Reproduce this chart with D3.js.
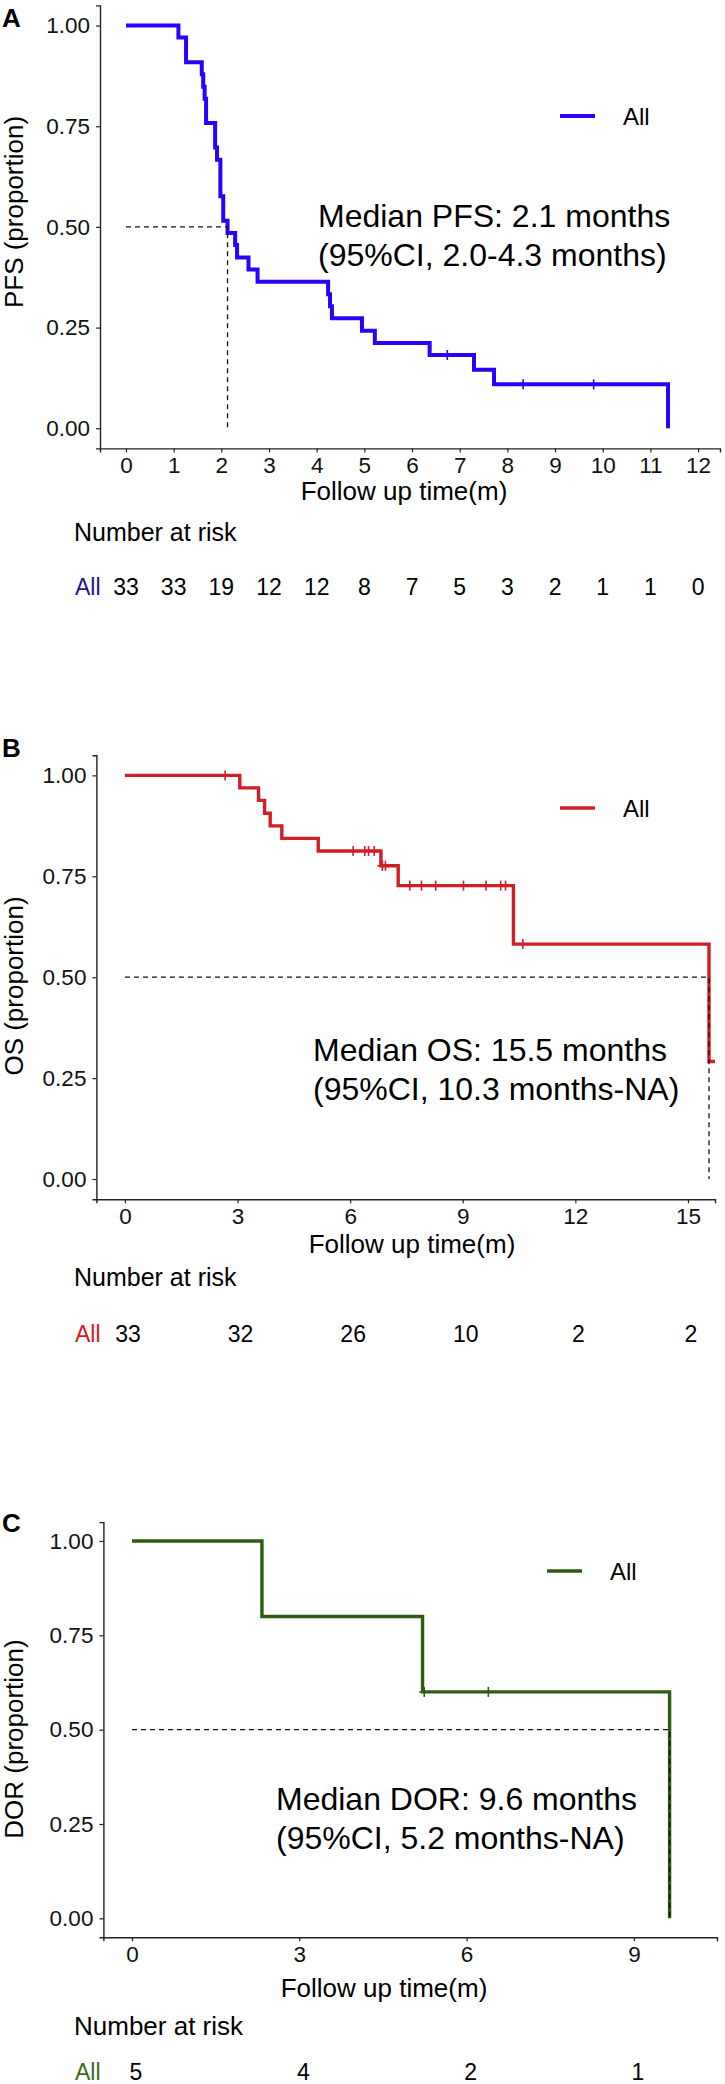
<!DOCTYPE html>
<html><head><meta charset="utf-8">
<script src="https://cdn.jsdelivr.net/npm/d3@7"></script>
<style>body{margin:0;background:#fff} text{font-family:"Liberation Sans",Arial,sans-serif}</style>
</head><body>
<svg id="chart" width="725" height="2084"></svg>
<script>
// ---------- Panel A : PFS ----------
const pfsTime = [0, 1.10, 1.26, 1.59, 1.62, 1.65, 1.68, 1.87, 1.91, 1.98, 2.04, 2.13, 2.29, 2.33, 2.57, 2.76, 4.24, 4.28, 4.32, 4.95, 5.22, 6.37, 7.30, 7.72, 11.37];
const pfsSurv = [1, 0.970, 0.909, 0.879, 0.848, 0.818, 0.758, 0.697, 0.667, 0.576, 0.515, 0.485, 0.455, 0.424, 0.394, 0.364, 0.333, 0.303, 0.273, 0.242, 0.212, 0.182, 0.145, 0.109, 0];
const pfsCensor = [6.74, 8.33, 9.81];
const pfsTicks = [0,1,2,3,4,5,6,7,8,9,10,11,12];
const pfsRisk = [33,33,19,12,12,8,7,5,3,2,1,1,0];
const pfsMedian = 2.13;
const pfsLabel = ["Median PFS: 2.1 months", "(95%CI, 2.0-4.3 months)"];

// ---------- Panel B : OS ----------
const osTime = [0, 3.06, 3.56, 3.72, 3.87, 4.18, 5.15, 6.82, 7.28, 10.35, 15.56, 15.72];
const osSurv = [1, 0.969, 0.938, 0.906, 0.875, 0.844, 0.8125, 0.776, 0.727, 0.582, 0.291, 0.291];
const osCensor = [2.67, 6.08, 6.39, 6.49, 6.64, 6.86, 6.94, 7.59, 7.90, 8.28, 9.02, 9.62, 10.01, 10.14, 10.60];
const osTicks = [0,3,6,9,12,15];
const osRisk = [33,32,26,10,2,2];
const osMedian = 15.56;
const osLabel = ["Median OS: 15.5 months", "(95%CI, 10.3 months-NA)"];

// ---------- Panel C : DOR ----------
const dorTime = [0, 2.33, 5.21, 9.64];
const dorSurv = [1, 0.8, 0.6, 0];
const dorCensor = [5.24, 6.39];
const dorTicks = [0,3,6,9];
const dorRisk = [5,4,2,1];
const dorMedian = 9.64;
const dorLabel = ["Median DOR: 9.6 months", "(95%CI, 5.2 months-NA)"];

const yTicks = [0, 0.25, 0.5, 0.75, 1];

const svg = d3.select("#chart");

function stepValue(times, surv, t){
  let v = surv[0];
  for (let i=0;i<times.length;i++){ if (times[i] <= t) v = surv[i]; }
  return v;
}

function panel(o){
  const g = svg.append("g");
  const x = d3.scaleLinear().domain(o.xDom).range(o.xRange);
  const y = d3.scaleLinear().domain([-0.05, 1.05]).range(o.yRange);

  // panel letter
  g.append("text").attr("x", 2).attr("y", o.letterY).text(o.letter)
    .attr("font-size", 26).attr("font-weight", "bold").attr("fill", "#000");

  // axes
  const ax = g.append("g").attr("transform", `translate(0,${o.yRange[0]})`)
    .call(d3.axisBottom(x).tickValues(o.ticks).tickFormat(d3.format("d")).tickSizeOuter(0).tickSize(4).tickPadding(5));
  const ay = g.append("g").attr("transform", `translate(${o.xRange[0]},0)`)
    .call(d3.axisLeft(y).tickValues(yTicks).tickFormat(d3.format(".2f")).tickSizeOuter(0).tickSize(4).tickPadding(6));
  [ax, ay].forEach(a => {
    a.select(".domain").attr("stroke", "#222").attr("stroke-width", 1.4);
    a.selectAll(".tick line").attr("stroke", "#222").attr("stroke-width", 1.2);
    a.selectAll(".tick text").attr("font-size", 22.5).attr("fill", "#111")
      .attr("font-family", "'Liberation Sans',Arial,sans-serif");
  });

  // axis titles
  g.append("text").attr("transform", `translate(23,${o.yTitleY}) rotate(-90)`)
    .attr("text-anchor", "middle").attr("font-size", 26).attr("fill", "#000").text(o.yTitle);
  g.append("text").attr("x", o.xTitleX).attr("y", o.xTitleY).attr("text-anchor", "middle")
    .attr("font-size", 26).attr("fill", "#000").text("Follow up time(m)");

  // survival step curve
  const pts = o.time.map((t,i) => [t, o.surv[i]]);
  const line = d3.line().x(d => x(d[0])).y(d => y(d[1])).curve(d3.curveStepAfter);
  g.append("path").attr("d", line(pts)).attr("fill", "none")
    .attr("stroke", o.color).attr("stroke-width", o.lw).attr("stroke-linejoin", "miter");

  // censor marks
  o.censor.forEach(t => {
    const cx = x(t), cy = y(stepValue(o.time, o.surv, t));
    g.append("line").attr("x1", cx).attr("x2", cx).attr("y1", cy - 5).attr("y2", cy + 5)
      .attr("stroke", o.color).attr("stroke-width", 1.6);
    g.append("line").attr("x1", cx - 5).attr("x2", cx + 5).attr("y1", cy).attr("y2", cy)
      .attr("stroke", o.color).attr("stroke-width", 1.6);
  });

  // median lines
  g.append("path").attr("d", d3.line().x(d => x(d[0])).y(d => y(d[1]))([[0,0.5],[o.median,0.5],[o.median,0]]))
    .attr("fill", "none").attr("stroke", "#111").attr("stroke-width", 1.3).attr("stroke-dasharray", "5,4");

  // legend
  g.append("line").attr("x1", o.legX).attr("x2", o.legX + 35).attr("y1", o.legY).attr("y2", o.legY)
    .attr("stroke", o.color).attr("stroke-width", o.lw);
  g.append("text").attr("x", o.legX + 63).attr("y", o.legY).attr("dy", "0.36em")
    .attr("font-size", 24).attr("fill", "#000").text("All");

  // median annotation
  o.label.forEach((s, i) => {
    g.append("text").attr("x", o.labX).attr("y", o.labY + i * 39).attr("font-size", 32)
      .attr("fill", "#000").text(s);
  });

  // number at risk
  g.append("text").attr("x", 74).attr("y", o.narY).attr("font-size", o.narSize).attr("fill", "#000").text("Number at risk");
  g.append("text").attr("x", 75).attr("y", o.riskY).attr("font-size", 23).attr("fill", o.riskColor).text("All");
  o.ticks.forEach((t, i) => {
    g.append("text").attr("x", x(t) + o.riskShift).attr("y", o.riskY).attr("text-anchor", "middle")
      .attr("font-size", 23).attr("fill", "#000").text(o.risk[i]);
  });
}

panel({letter:"A", letterY:27, xDom:[-0.545, 12.46], xRange:[100, 720], yRange:[448.4, 5.4],
  ticks:pfsTicks, time:pfsTime, surv:pfsSurv, censor:pfsCensor, median:pfsMedian, label:pfsLabel,
  color:"#2a00ff", lw:4, riskColor:"#1e168f", risk:pfsRisk, riskShift:0,
  yTitle:"PFS (proportion)", yTitleY:212, xTitleX:404, xTitleY:500,
  legX:560, legY:116, labX:318, labY:227, narY:541, narSize:25, riskY:595});

panel({letter:"B", letterY:757, xDom:[-0.76, 15.72], xRange:[96.4, 715], yRange:[1199.2, 755.2],
  ticks:osTicks, time:osTime, surv:osSurv, censor:osCensor, median:osMedian, label:osLabel,
  color:"#d01f26", lw:3.4, riskColor:"#d7191c", risk:osRisk, riskShift:3,
  yTitle:"OS (proportion)", yTitleY:986, xTitleX:412, xTitleY:1253,
  legX:560, legY:808, labX:313, labY:1061, narY:1286, narSize:25, riskY:1342});

panel({letter:"C", letterY:1532, xDom:[-0.513, 10.49], xRange:[103.4, 717], yRange:[1937.2, 1522.1],
  ticks:dorTicks, time:dorTime, surv:dorSurv, censor:dorCensor, median:dorMedian, label:dorLabel,
  color:"#2f5b12", lw:3.4, riskColor:"#3a6b1a", risk:dorRisk, riskShift:4,
  yTitle:"DOR (proportion)", yTitleY:1739, xTitleX:384, xTitleY:1997,
  legX:547, legY:1571, labX:276, labY:1810, narY:2035, narSize:26, riskY:2080});
</script>
</body></html>
